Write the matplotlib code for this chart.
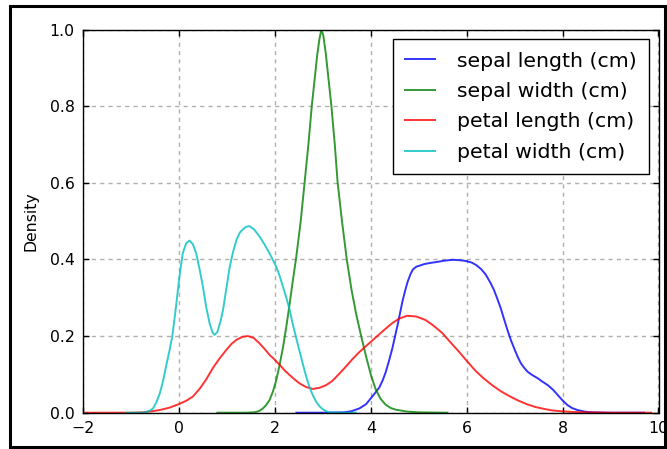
import matplotlib
matplotlib.use("Agg")
import matplotlib.pyplot as plt
from matplotlib.patches import Rectangle

# ---- data (KDE curves of the iris features) ----
sl_x = [2.45, 3.0, 3.45, 3.60, 3.76, 3.90, 4.05, 4.18, 4.25, 4.31, 4.38, 4.45, 4.56, 4.66, 4.72, 4.77,
        4.83, 4.88, 4.95, 5.05, 5.12, 5.25, 5.36, 5.55, 5.71, 5.85, 5.98, 6.10, 6.19, 6.30, 6.40, 6.50,
        6.57, 6.64, 6.71, 6.78, 6.85, 6.92, 6.99, 7.06, 7.13, 7.20, 7.27, 7.37, 7.48, 7.58, 7.69, 7.80,
        7.90, 8.00, 8.10, 8.20, 8.31, 8.45, 8.6, 9.0, 9.7]
sl_y = [0.0, 0.0, 0.001, 0.004, 0.011, 0.022, 0.045, 0.066, 0.085, 0.105, 0.135, 0.168, 0.229, 0.290, 0.320, 0.342,
        0.362, 0.374, 0.381, 0.385, 0.388, 0.391, 0.393, 0.397, 0.399, 0.398, 0.396, 0.392, 0.386, 0.375, 0.360, 0.338,
        0.320, 0.297, 0.273, 0.244, 0.216, 0.190, 0.168, 0.147, 0.129, 0.117, 0.107, 0.098, 0.090, 0.081, 0.072, 0.060,
        0.046, 0.032, 0.020, 0.012, 0.007, 0.003, 0.001, 0.0, 0.0]

sw_x = [0.8, 1.4, 1.55, 1.61, 1.68, 1.75, 1.82, 1.89, 1.96, 2.03, 2.10, 2.17, 2.24, 2.31, 2.37, 2.44,
        2.54, 2.62, 2.70, 2.77, 2.83, 2.88, 2.93, 2.97, 3.01, 3.06, 3.12, 3.18, 3.25, 3.31, 3.40, 3.50,
        3.60, 3.70, 3.80, 3.90, 4.0, 4.1, 4.2, 4.31, 4.42, 4.52, 4.75, 5.0, 5.6]
sw_y = [0.0, 0.0, 0.001, 0.002, 0.005, 0.011, 0.020, 0.033, 0.055, 0.085, 0.125, 0.170, 0.225, 0.285, 0.340, 0.400,
        0.500, 0.600, 0.700, 0.800, 0.870, 0.930, 0.975, 1.000, 0.985, 0.940, 0.870, 0.800, 0.700, 0.600, 0.500, 0.400,
        0.320, 0.255, 0.200, 0.148, 0.100, 0.062, 0.037, 0.021, 0.012, 0.008, 0.003, 0.001, 0.0]

pl_x = [-1.95, -1.0, -0.75, -0.55, -0.40, -0.2, 0.01, 0.15, 0.29, 0.43, 0.56, 0.71, 0.85, 0.99, 1.10, 1.20,
        1.32, 1.44, 1.56, 1.68, 1.79, 1.89, 2.0, 2.10, 2.20, 2.31, 2.41, 2.51, 2.65, 2.79, 2.93, 3.07,
        3.20, 3.33, 3.48, 3.62, 3.76, 3.93, 4.10, 4.28, 4.45, 4.60, 4.76, 4.95, 5.14, 5.30, 5.49, 5.66,
        5.84, 6.01, 6.18, 6.35, 6.53, 6.70, 6.88, 7.07, 7.26, 7.43, 7.61, 7.78, 7.95, 8.2, 8.5, 9.0, 9.85]
pl_y = [0.0, 0.0, 0.001, 0.004, 0.007, 0.013, 0.023, 0.031, 0.042, 0.062, 0.085, 0.117, 0.142, 0.164, 0.180, 0.190,
        0.198, 0.200, 0.195, 0.181, 0.166, 0.151, 0.138, 0.125, 0.111, 0.098, 0.087, 0.077, 0.067, 0.062, 0.065, 0.072,
        0.083, 0.100, 0.120, 0.140, 0.158, 0.177, 0.196, 0.216, 0.234, 0.246, 0.253, 0.251, 0.242, 0.228, 0.208, 0.184,
        0.159, 0.134, 0.110, 0.090, 0.072, 0.057, 0.044, 0.032, 0.022, 0.015, 0.010, 0.006, 0.004, 0.002, 0.001, 0.0, 0.0]

pw_x = [-1.1, -0.75, -0.68, -0.61, -0.54, -0.47, -0.40, -0.33, -0.27, -0.20, -0.14, -0.06, 0.01, 0.08, 0.15, 0.22,
        0.29, 0.36, 0.43, 0.50, 0.57, 0.64, 0.70, 0.74, 0.80, 0.86, 0.92, 0.99, 1.06, 1.13, 1.20, 1.27,
        1.33, 1.40, 1.47, 1.57, 1.68, 1.79, 1.89, 2.03, 2.10, 2.17, 2.24, 2.31, 2.37, 2.44, 2.51, 2.58,
        2.65, 2.72, 2.79, 2.86, 2.93, 3.0, 3.07, 3.13, 3.3, 3.7]
pw_y = [0.0, 0.0, 0.002, 0.005, 0.011, 0.027, 0.050, 0.083, 0.120, 0.160, 0.198, 0.277, 0.355, 0.416, 0.442, 0.449,
        0.440, 0.416, 0.375, 0.329, 0.275, 0.233, 0.210, 0.203, 0.210, 0.235, 0.268, 0.325, 0.381, 0.420, 0.451, 0.470,
        0.478, 0.485, 0.487, 0.478, 0.460, 0.438, 0.416, 0.381, 0.357, 0.329, 0.300, 0.268, 0.233, 0.198, 0.163, 0.129,
        0.096, 0.068, 0.046, 0.029, 0.017, 0.009, 0.004, 0.001, 0.0, 0.0]

labels = ["sepal length (cm)", "sepal width (cm)", "petal length (cm)", "petal width (cm)"]
colors = ["b", "g", "r", "c"]
xticks = [-2, 0, 2, 4, 6, 8, 10]
yticks = [0.0, 0.2, 0.4, 0.6, 0.8, 1.0]

plt.rcParams["font.family"] = ["DejaVu Sans"]

fig = plt.figure(figsize=(6.67, 4.49), dpi=100)
fig.patch.set_facecolor("white")
ax = fig.add_axes([83 / 667, 1 - 412.7 / 449, (658.5 - 83) / 667, (412.7 - 29.5) / 449])

series = [(sl_x, sl_y), (sw_x, sw_y), (pl_x, pl_y), (pw_x, pw_y)]
for (xs, ys), lab, col in zip(series, labels, colors):
    ax.plot(xs, ys, color=col, lw=1.4, alpha=0.8, label=lab)

ax.set_xlim(-2, 10)
ax.set_ylim(0, 1.0)
ax.set_xticks(xticks)
ax.set_yticks(yticks)
ax.set_xticklabels(["\u22122", "0", "2", "4", "6", "8", "10"])
ax.set_yticklabels([f"{v:.1f}" for v in yticks])
ax.tick_params(direction="in", length=4, width=1, top=True, right=True,
               labelsize=11.3, pad=6, colors="black")
ax.grid(True, color="#b0b0b0", linestyle=(0, (3, 3)), lw=1)
for s in ax.spines.values():
    s.set_linewidth(1.0)
    s.set_color("black")
ax.set_ylabel("Density", fontsize=11.3, labelpad=8)

leg = ax.legend(loc="upper right", fontsize=14.7, frameon=True, fancybox=False,
                handlelength=1.5, handletextpad=1.05, borderaxespad=0.48,
                labelspacing=0.56, borderpad=0.6)
leg.get_frame().set_edgecolor("black")
leg.get_frame().set_linewidth(1.0)
leg.get_frame().set_alpha(1)

# outer frame of the screenshot
fig.patches.append(Rectangle((10 / 667, 2.5 / 449), 655 / 667, 440.5 / 449, transform=fig.transFigure,
                             fill=False, edgecolor="black", lw=2.2))

fig.savefig("out.png", dpi=100, facecolor="white")
